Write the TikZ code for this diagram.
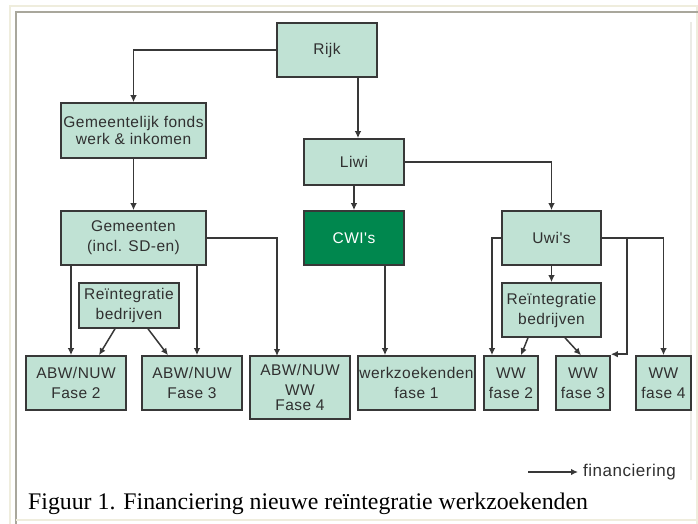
\documentclass[tikz,border=0pt]{standalone}
\usepackage{fontspec}
\usepackage{tikz}
\usetikzlibrary{arrows.meta}
\setmainfont{Liberation Serif}
\newfontfamily\boxfont[LetterSpace=3]{Liberation Sans}
\definecolor{mint}{HTML}{C0E2D4}
\definecolor{darkmint}{HTML}{00874E}
\definecolor{edgegray}{HTML}{383838}
\definecolor{ink}{HTML}{303030}
\definecolor{framegray}{HTML}{A9A79C}
\definecolor{framebeige}{HTML}{EFEDDD}
\tikzset{
  box/.style={draw=edgegray, line width=1.6pt, fill=mint, text=ink, inner sep=0pt,
    align=center, font=\boxfont\fontsize{15.5}{20}\selectfont},
  conn/.style={draw=edgegray, line width=1.5pt, -{Latex[length=7pt,width=6.5pt]}}
}

\begin{document}
\begin{tikzpicture}[x=1pt, y=-1pt]
            \useasboundingbox (0,0) rectangle (698,524);
            % frame
            \draw[framebeige, line width=2pt] (10,524) -- (10,6) -- (697,6) -- (697,524);
            \draw[framegray, line width=1.7pt] (16,524) -- (16,12) -- (698,12);
            \draw[framebeige!70!gray!40, line width=1.2pt] (691,22) -- (691,480);
            \draw[framebeige, line width=1.2pt] (16,520) -- (697,520);
            % boxes
            \node[box, minimum width=100, minimum height=54] (rijk) at (327,50) {Rijk};
            \node[box, minimum width=145, minimum height=55] (fonds) at (133.5,130.5) {Gemeentelijk fonds\\[-3pt]werk \& inkomen};
            \node[box, minimum width=100, minimum height=46] (liwi) at (354,162) {Liwi};
            \node[box, minimum width=145, minimum height=54] (gem) at (133.5,238) {Gemeenten\\(incl. SD-en)};
            \node[box, fill=darkmint, text=white, minimum width=100, minimum height=54] (cwi) at (354,238) {CWI's};
            \node[box, minimum width=99, minimum height=54] (uwi) at (551.5,238) {Uwi's};
            \node[box, minimum width=100, minimum height=45] (reintL) at (129,305.5) {Reïntegratie\\bedrijven};
            \node[box, minimum width=99, minimum height=54] (reintR) at (551.5,310) {Reïntegratie\\bedrijven};
            \node[box, minimum width=100, minimum height=54] (f2) at (76,383) {ABW/NUW\\Fase 2};
            \node[box, minimum width=100, minimum height=54] (f3) at (192,383) {ABW/NUW\\Fase 3};
            \node[box, minimum width=100, minimum height=63] (f4) at (300,387.5) {ABW/NUW\\WW\\[-5pt]Fase 4};
            \node[box, minimum width=117, minimum height=54] (wz1) at (416.5,383) {werkzoekenden\\fase 1};
            \node[box, minimum width=54, minimum height=54] (ww2) at (511,383) {WW\\fase 2};
            \node[box, minimum width=54, minimum height=54] (ww3) at (583,383) {WW\\fase 3};
            \node[box, minimum width=55, minimum height=54] (ww4) at (663.5,383) {WW\\fase 4};
            % connector points
            \coordinate (rl) at (358,77);
            \coordinate (g2) at (71,265);
            \coordinate (g3) at (197,265);
            \coordinate (g4) at (277,356);
            \coordinate (c1) at (385,265);
            \coordinate (u2) at (492,238);
            \coordinate (u3) at (627,238);
            % connectors
            \draw[conn] (rijk.west) -| (fonds.north);
            \draw[conn] (rl) -- (rl |- liwi.north);
            \draw[conn] (fonds.south) -- (gem.north);
            \draw[conn] (liwi.east) -| (uwi.north);
            \draw[conn] (liwi.south) -- (cwi.north);
            \draw[conn] (gem.east) -| (g4);
            \draw[conn] (g2) -- (g2 |- f2.north);
            \draw[conn] (g3) -- (g3 |- f3.north);
            \draw[conn] ([xshift=-14pt]reintL.south) -- ([xshift=23pt]f2.north);
            \draw[conn] ([xshift=19pt]reintL.south) -- ([xshift=-24pt]f3.north);
            \draw[conn] (c1) -- (c1 |- wz1.north);
            \draw[conn] (uwi.west) -- (u2) -- (u2 |- ww2.north);
            \draw[conn] (uwi.south) -- (reintR.north);
            \draw[conn] (uwi.east) -| (ww4.north);
            \draw[conn] (u3) |- ([yshift=1pt]ww3.north east);
            \draw[conn] ([xshift=-23.5pt]reintR.south) -- ([xshift=10pt]ww2.north);
            \draw[conn] ([xshift=13.5pt]reintR.south) -- ([xshift=-2pt]ww3.north);
            % legend
            \coordinate (leg) at (528,472);
            \node[text=ink, font=\boxfont\fontsize{17}{20}\selectfont, anchor=west, inner sep=0pt] (fin) at (583,472) {financiering};
            \draw[conn] (leg) -- ([xshift=-5pt]fin.west);
            % caption
            \node[anchor=base west, inner sep=0pt, font=\fontsize{23.8}{28}\selectfont] (cap) at (28,509) {Figuur 1. Financiering nieuwe reïntegratie werkzoekenden};
        \end{tikzpicture}
\end{document}
